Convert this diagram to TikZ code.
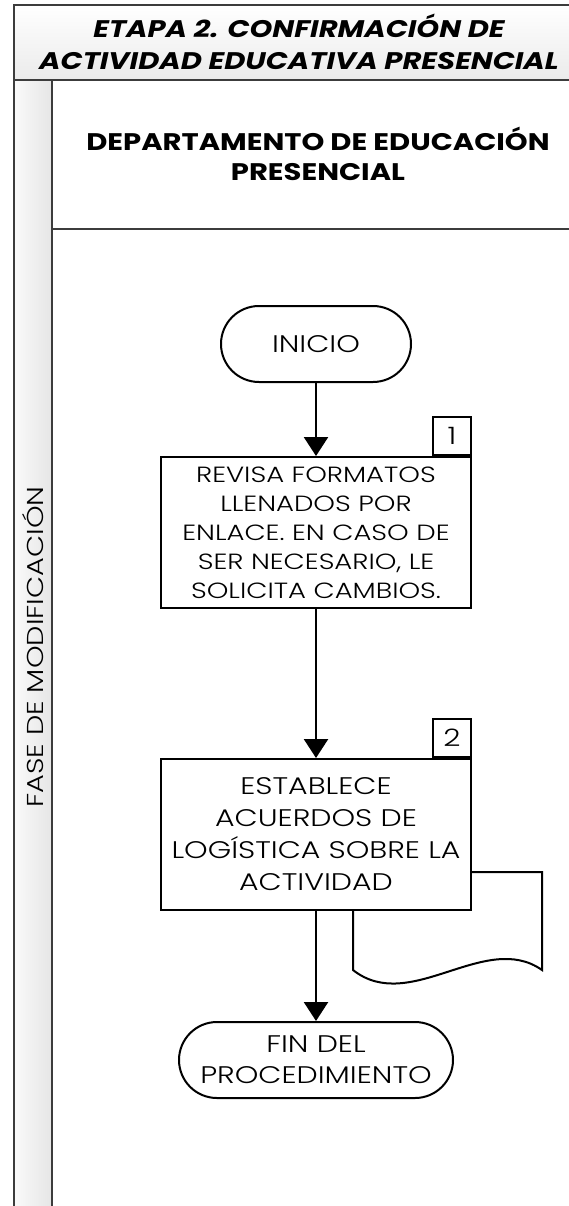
\documentclass[tikz,border=0pt]{standalone}
\usepackage{fontspec}
\setmainfont{Poppins}[UprightFont={* Light}, FakeStretch=1.25, BoldFont={* Bold}, BoldItalicFont={* Bold Italic}, BoldFeatures={FakeStretch=1.21}, BoldItalicFeatures={FakeStretch=1.21}]
\usetikzlibrary{arrows.meta}
\definecolor{frame}{HTML}{3C3C3C}
\begin{document}
\begin{tikzpicture}[x=1pt,y=-1pt,
  bodyf/.style={font=\fontsize{24}{29}\selectfont},
  proc/.style={draw, line width=2pt, fill=white, minimum width=310pt, minimum height=151pt, align=center, inner sep=0pt, bodyf},
  term/.style={draw, line width=2pt, fill=white, rounded corners=38pt, minimum height=76pt, align=center, inner sep=0pt, bodyf},
  numbox/.style={draw, line width=2pt, fill=white, minimum size=38pt, inner sep=0pt, bodyf},
  flow/.style={line width=2.5pt, -{Triangle[width=24pt,length=19pt]}},
  lane/.style={draw=frame, line width=2.5pt}
]
\useasboundingbox (0,0) rectangle (568,1206);
% title band
\fill[top color=white, bottom color=black!8] (14,5) rectangle (570,80);
% left column
\fill[left color=black!2, right color=black!10] (14,80) rectangle (52,1210);
\draw[lane] (570,5) -- (14,5) -- (14,1210);
\draw[lane] (14,80) -- (570,80);
\draw[lane] (52,80) -- (52,1210);
\draw[lane] (52,229) -- (570,229);
\node[font=\fontsize{24}{32}\selectfont\bfseries\itshape, align=center, inner sep=0pt] (title) at (299,42) {ETAPA 2. CONFIRMACIÓN DE\\ACTIVIDAD EDUCATIVA PRESENCIAL};
\node[font=\fontsize{24}{30}\selectfont\bfseries, align=center, inner sep=0pt] (dept) at (318,154) {DEPARTAMENTO DE EDUCACIÓN\\PRESENCIAL};
\node[rotate=90, font=\fontsize{23}{26}\selectfont, inner sep=0pt] (fase) at (33,647) {FASE DE MODIFICACIÓN};
% flow
\node[term, minimum width=190pt] (inicio) at (316,344) {INICIO};
\node[proc, font=\fontsize{22}{29}\selectfont] (p1) at (316,532.5) {REVISA FORMATOS\\LLENADOS POR\\ENLACE. EN CASO DE\\SER NECESARIO, LE\\SOLICITA CAMBIOS.};
\node[numbox, anchor=south east] (n1) at (p1.north east) {1};
\draw[line width=2pt, fill=white] (353,872) -- (542,872) -- (542,970) .. controls (485,930) and (410,1015) .. (353,970) -- cycle;
\node[proc, font=\fontsize{24}{32}\selectfont] (p2) at (316,834.5) {ESTABLECE\\ACUERDOS DE\\LOGÍSTICA SOBRE LA\\ACTIVIDAD};
\node[numbox, anchor=south east] (n2) at (p2.north east) {2};
\node[term, minimum width=274pt, font=\fontsize{24}{31}\selectfont] (fin) at (316,1060) {FIN DEL\\PROCEDIMIENTO};
\draw[flow] (inicio) -- (p1);
\draw[flow] (p1) -- (p2);
\draw[flow] (p2) -- (fin);
\end{tikzpicture}
\end{document}
